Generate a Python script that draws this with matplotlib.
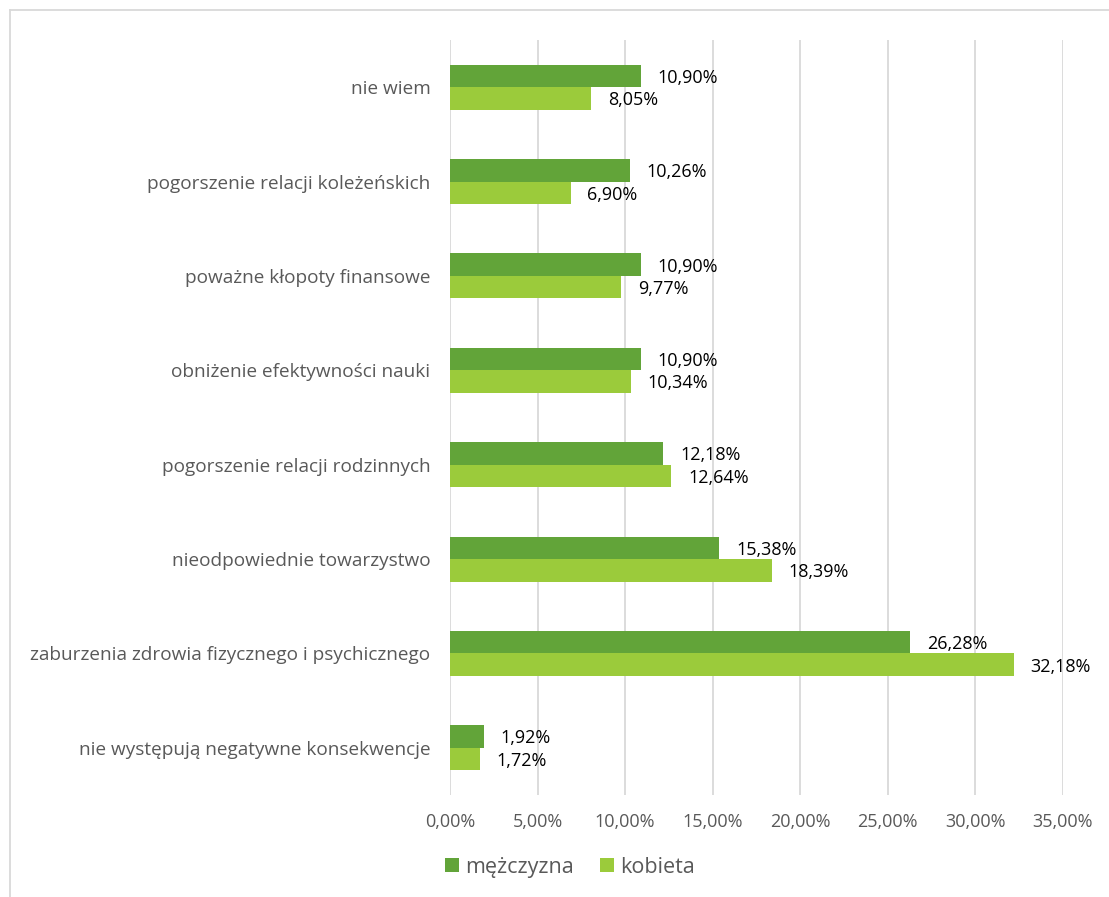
import matplotlib
matplotlib.use("Agg")
import matplotlib.pyplot as plt
from matplotlib.lines import Line2D
from matplotlib.patches import Patch
import numpy as np

plt.rcParams['font.family'] = ['Open Sans', 'DejaVu Sans']

categories = [
    "nie wiem",
    "pogorszenie relacji koleżeńskich",
    "poważne kłopoty finansowe",
    "obniżenie efektywności nauki",
    "pogorszenie relacji rodzinnych",
    "nieodpowiednie towarzystwo",
    "zaburzenia zdrowia fizycznego i psychicznego",
    "nie występują negatywne konsekwencje",
]
mezczyzna = [10.90, 10.26, 10.90, 10.90, 12.18, 15.38, 26.28, 1.92]
kobieta = [8.05, 6.90, 9.77, 10.34, 12.64, 18.39, 32.18, 1.72]
series_names = ["mężczyzna", "kobieta"]
xticks = [0, 5, 10, 15, 20, 25, 30, 35]

c_dark = "#62A439"
c_light = "#9BCB3B"
txt_gray = "#595959"
grid_c = "#D9D9D9"

W, H = 1109, 897
fig = plt.figure(figsize=(W / 100, H / 100), dpi=100)
ax = fig.add_axes([450 / W, 1 - 795 / H, (1063 - 450) / W, (795 - 40) / H])

y = np.arange(len(categories))
h = 0.238
ax.barh(y - h / 2, mezczyzna, height=h, color=c_dark, zorder=3)
ax.barh(y + h / 2, kobieta, height=h, color=c_light, zorder=3)

fmt = lambda v: f"{v:.2f}".replace(".", ",") + "%"
for yi, v in zip(y, mezczyzna):
    ax.text(v + 0.95, yi - h / 2 + 0.02, fmt(v), va="center", ha="left",
            fontsize=13, color="#000000")
for yi, v in zip(y, kobieta):
    ax.text(v + 0.95, yi + h / 2 + 0.02, fmt(v), va="center", ha="left",
            fontsize=13, color="#000000")

ax.set_ylim(len(categories) - 0.5, -0.5)
ax.set_xlim(0, 35)
ax.set_xticks(xticks)
ax.set_xticklabels([f"{t:.2f}".replace(".", ",") + "%" for t in xticks],
                   fontsize=13, color=txt_gray)
ax.set_yticks(y)
ax.set_yticklabels(categories, fontsize=13.7, color=txt_gray)
ax.tick_params(axis="x", length=0, pad=13)
ax.tick_params(axis="y", length=0, pad=14)
for s in ax.spines.values():
    s.set_visible(False)
ax.grid(axis="x", color=grid_c, linewidth=1.3, zorder=0)
ax.set_axisbelow(True)

handles = [Patch(facecolor=c_dark, label=series_names[0]),
           Patch(facecolor=c_light, label=series_names[1])]
leg = fig.legend(handles=handles, loc="center", bbox_to_anchor=(570 / W, 1 - 867 / H),
                 ncol=2, frameon=False, fontsize=15.5, handlelength=0.65, handleheight=0.65,
                 handletextpad=0.3, columnspacing=1.2)
for t in leg.get_texts():
    t.set_color(txt_gray)

# outer frame (partially visible)
fig.add_artist(Line2D([9.5 / W, 1], [1 - 10.5 / H, 1 - 10.5 / H], color=grid_c, linewidth=1.3,
                      transform=fig.transFigure))
fig.add_artist(Line2D([9.5 / W, 9.5 / W], [0, 1 - 10.5 / H], color=grid_c, linewidth=1.3,
                      transform=fig.transFigure))

fig.savefig("out.png", dpi=100, facecolor="white")
